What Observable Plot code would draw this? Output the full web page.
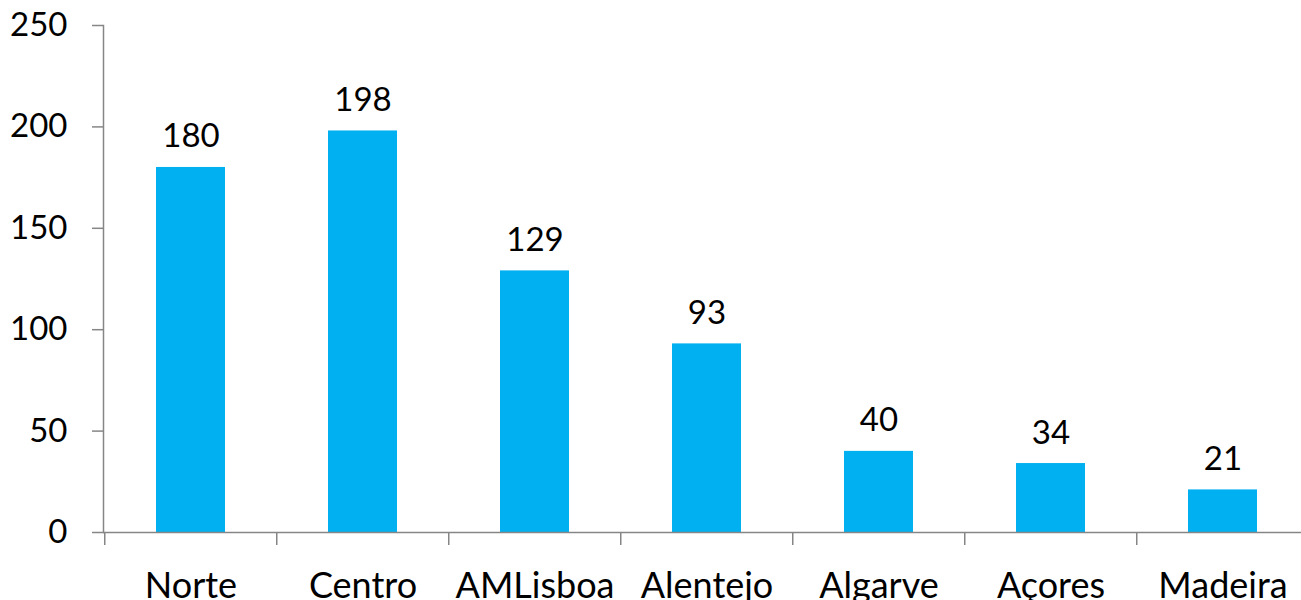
<!DOCTYPE html>
<html>
<head>
<meta charset="utf-8">
<script src="https://cdn.jsdelivr.net/npm/d3@7"></script>
<script src="https://cdn.jsdelivr.net/npm/@observablehq/plot@0.6"></script>
<style>
  html, body { margin: 0; padding: 0; background: #fff; overflow: hidden; }
</style>
</head>
<body>
<div id="chart"></div>
<script>
const regions = ["Norte", "Centro", "AMLisboa", "Alentejo", "Algarve", "Açores", "Madeira"];
const values = [180, 198, 129, 93, 40, 34, 21];
const yTicks = [0, 50, 100, 150, 200, 250];

const data = regions.map((r, i) => ({region: r, value: values[i]}));

const W = 1301, H = 600;
const mL = 103, mR = -9.5;
const step = (W - mL - mR) / regions.length;
const axisColor = "#868686";
const font = "Lato, 'Open Sans', sans-serif";

const chart = Plot.plot({
  width: W,
  height: H,
  marginLeft: mL,
  marginRight: mR,
  marginTop: 25,
  marginBottom: 68,
  style: {fontFamily: font, background: "#fff", color: "#000", overflow: "visible"},
  x: {domain: regions, paddingInner: 0.6, paddingOuter: 0.3, label: null},
  y: {domain: [0, 250], label: null},
  marks: [
    Plot.barY(data, {x: "region", y: "value", fill: "#00B0F0"}),
    Plot.frame({anchor: "left", stroke: axisColor, strokeWidth: 1.5}),
    Plot.ruleY([0], {stroke: axisColor, strokeWidth: 1.5}),
    Plot.axisY({ticks: yTicks, tickSize: 11, tickPadding: 25, stroke: axisColor, strokeWidth: 1.5, fontSize: 33, fill: "#000"}),
    Plot.axisX({tickSize: 13, stroke: axisColor, strokeWidth: 1.5, dx: -step / 2, tickFormat: () => ""}),
    Plot.axisX({tickSize: 0, tickPadding: 40, fontSize: 36, fill: "#000"}),
    Plot.text(data, {x: "region", y: "value", text: d => String(d.value), lineAnchor: "bottom", dy: -20, fontSize: 33, fill: "#000"})
  ]
});
document.getElementById("chart").appendChild(chart);
</script>
</body>
</html>
